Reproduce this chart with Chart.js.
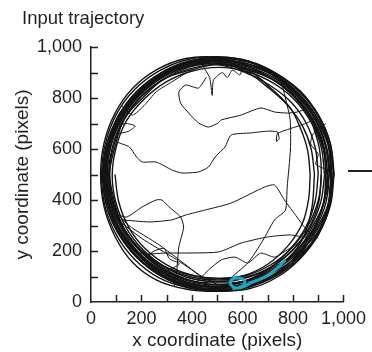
<!DOCTYPE html>
<html>
<head>
<meta charset="utf-8">
<script src="https://cdn.jsdelivr.net/npm/chart.js@4.4.1/dist/chart.umd.min.js"></script>
<style>
  body { margin:0; background:#fff; }
  #wrap { position:relative; width:372px; height:352px; }
  #title { position:absolute; left:22px; top:9px; font:18.5px "Liberation Sans", Arial, sans-serif; line-height:1; color:#231f20; }
  #stray { position:absolute; left:348px; top:170px; width:24px; height:1.5px; background:#231f20; }
</style>
</head>
<body>
<div id="wrap">
  <canvas id="chart" width="372" height="352"></canvas>
  <div id="title">Input trajectory</div>
  <div id="stray"></div>
</div>
<script>

// ticks
const xTicks = [0, 200, 400, 600, 800, 1000]
const yTicks = [0, 200, 400, 600, 800, 1000]

// laps round the ring (x, y in pixels)
const lap1 = [[955,500],[942,615],[893,728],[826,815],[728,893],[620,933],[505,952],[386,938],[282,888],[185,820],[117,722],[68,619],[53,498],[71,380],[113,277],[190,180],[278,108],[390,63],[505,49],[624,63],[731,112],[820,185],[893,279],[942,384],[955,500]]
const lap2 = [[945,505],[928,612],[886,720],[815,810],[728,884],[625,944],[502,962],[380,950],[268,905],[172,832],[100,735],[57,622],[42,505],[55,378],[101,262],[172,168],[270,95],[384,56],[505,42],[618,58],[722,106],[812,178],[880,280],[924,392],[945,505]]
const lap3 = [[938,498],[922,610],[880,716],[810,806],[720,875],[616,918],[505,936],[392,922],[290,876],[198,806],[128,716],[86,612],[70,500],[86,388],[128,284],[200,194],[288,124],[394,80],[506,66],[615,80],[722,124],[811,194],[880,286],[922,390],[938,498]]
const lap4 = [[960,520],[946,628],[900,735],[830,822],[735,896],[626,941],[510,956],[388,943],[276,896],[180,825],[108,728],[63,616],[48,500],[62,375],[108,268],[182,176],[276,102],[388,60],[500,46],[622,60],[728,106],[828,178],[900,274],[948,388],[960,520]]
const lap5 = [[900,505],[888,606],[852,702],[790,786],[708,850],[612,900],[505,930],[390,930],[282,885],[190,812],[120,720],[75,614],[58,500],[72,385],[116,280],[188,190],[282,118],[395,74],[505,62],[608,82],[700,128],[782,200],[850,292],[888,396],[900,505]]
const lap6 = [[935,500],[918,606],[875,708],[808,800],[722,872],[620,925],[505,958],[376,955],[262,912],[165,838],[95,740],[52,625],[38,500],[52,372],[96,255],[165,155],[262,85],[380,50],[505,42],[626,52],[735,96],[830,172],[903,268],[945,380],[935,500]]
const lap7 = [[925,498],[912,606],[870,708],[803,796],[716,862],[614,905],[505,920],[398,905],[296,862],[210,795],[140,710],[100,608],[84,500],[98,392],[140,290],[206,205],[296,136],[396,92],[505,80],[612,94],[714,138],[800,205],[868,292],[910,392],[925,498]]
const lap8 = [[868,500],[858,595],[830,680],[790,760],[722,830],[628,905],[510,945],[392,940],[276,894],[180,818],[112,724],[72,615],[62,500],[80,390],[126,290],[196,206],[290,140],[400,104],[505,92],[606,104],[700,148],[780,220],[838,310],[862,404],[868,500]]
const lap9 = [[95,500],[110,392],[150,292],[214,210],[300,146],[398,106],[505,92],[614,104],[712,146],[795,212],[858,296],[900,398],[912,500],[905,600],[880,690]]
const lap10 = [[950,505],[938,618],[887,726],[823,812],[725,888],[618,928],[508,947],[388,928],[285,883],[188,818],[122,720],[72,618],[58,498],[78,383],[118,280],[193,183],[280,118],[392,68],[503,57],[622,68],[726,118],[823,182],[888,280],[938,382],[950,505]]
const lap11 = [[962,498],[943,620],[902,725],[825,825],[736,891],[620,942],[503,957],[390,937],[274,896],[185,820],[108,731],[67,615],[48,503],[67,380],[108,275],[186,176],[274,108],[390,58],[508,47],[620,62],[736,104],[825,181],[902,270],[943,385],[962,498]]
const lap12 = [[930,502],[920,608],[873,717],[811,800],[716,874],[619,910],[502,931],[396,910],[288,874],[205,800],[131,717],[95,608],[74,502],[95,386],[131,289],[205,194],[288,132],[397,84],[502,75],[619,84],[716,132],[811,194],[873,289],[920,386],[930,502]]
const lap13 = [[952,495],[940,620],[896,722],[821,818],[732,888],[617,936],[502,948],[390,940],[278,892],[188,815],[112,726],[70,614],[52,502],[68,386],[116,272],[188,184],[276,112],[386,66],[508,52],[620,66],[733,108],[818,188],[896,272],[940,380],[952,495]]
const lap14 = [[943,500],[930,612],[884,722],[818,806],[724,880],[621,922],[505,942],[392,925],[286,882],[193,810],[124,720],[80,616],[64,500],[80,388],[124,282],[195,188],[286,120],[392,74],[505,60],[618,74],[724,122],[815,190],[884,282],[930,388],[943,500]]
const lap15 = [[963,505],[948,622],[900,732],[830,826],[731,898],[626,944],[506,960],[384,944],[275,898],[180,825],[110,732],[62,620],[46,500],[62,378],[110,268],[180,175],[275,103],[385,57],[505,44],[625,58],[735,103],[830,175],[900,268],[948,378],[963,505]]
const lap16 = [[936,498],[921,612],[878,716],[806,806],[721,872],[614,916],[503,932],[393,915],[290,874],[200,806],[132,716],[90,612],[73,498],[90,388],[132,284],[200,196],[290,126],[393,85],[505,68],[615,85],[720,127],[806,196],[878,284],[921,388],[936,498]]
const lap17 = [[885,500],[872,600],[838,690],[780,770],[705,838],[620,900],[505,940],[388,935],[280,890],[186,815],[116,720],[72,612],[56,500],[72,385],[118,278],[190,186],[282,114],[392,70],[505,58],[612,72],[705,112],[780,170],[840,250],[875,370],[885,500]]
const lap18 = [[948,500],[932,612],[886,722],[818,812],[726,886],[620,932],[505,948],[390,934],[282,888],[188,816],[120,722],[78,612],[66,500],[85,392],[128,292],[196,205],[290,138],[396,98],[505,86],[614,98],[716,138],[800,205],[864,292],[902,392],[912,500]]

// crossings through the middle
const pathTop = [[457,882],[426,839],[375,851],[348,824],[355,780],[387,741],[426,702],[465,686],[504,702],[516,714],[594,733],[672,761],[727,745],[777,741],[816,745],[860,760]]
const pathMid = [[102,627],[152,608],[180,569],[203,549],[258,549],[320,518],[359,506],[426,510],[465,529],[492,569],[531,608],[555,655],[633,663],[700,670],[738,667],[745,640],[735,630],[738,660],[790,680],[850,700],[890,720]]
const pathLow = [[125,322],[230,314],[320,322],[375,341],[453,361],[555,388],[688,451],[727,459],[766,400],[816,333],[855,282],[900,250]]
const pathBump = [[100,345],[141,333],[203,373],[258,400],[281,400],[309,373],[355,333],[367,294],[348,216],[340,125],[330,60]]
const pathRight = [[750,880],[770,800],[789,714],[790,600],[777,451],[770,360],[727,322],[680,240],[621,153],[543,86]]
const pathFlat = [[113,282],[191,192],[297,192],[504,196],[594,231],[699,255],[789,263],[855,255],[900,300]]
const pathWiggle = [[400,60],[465,125],[516,165],[570,176],[621,153],[672,192],[727,176],[777,204],[820,230],[860,270]]
const pathDiagA = [[55,400],[150,300],[270,224],[426,106],[470,60]]
const pathDiagB = [[82,341],[200,250],[328,173],[440,100],[504,67]]
const pathUpLeft = [[120,770],[164,733],[210,770],[258,824],[320,863],[380,900]]
const pathPoint = [[95,690],[140,700],[175,690],[150,670],[110,660]]
const pathSpikes = [[440,930],[470,880],[480,810],[485,870],[520,900],[540,880],[560,910],[590,890],[600,930]]
const pathRightLoop = [[930,700],[880,660],[870,620],[900,580],[890,540],[930,520]]
const pathLowLeft = [[200,160],[250,200],[290,210],[310,170],[350,150],[300,120]]

// highlighted segment
const cyanPath = [[770,165],[738,133],[688,98],[633,75],[602,59],[574,55],[555,67],[555,86],[574,94],[602,90],[609,75],[594,59],[560,52]]

const laps  = [lap1, lap2, lap3, lap4, lap5, lap6, lap7, lap8, lap9, lap10, lap11, lap12, lap13, lap14, lap15, lap16, lap17, lap18]
const paths = [pathTop, pathMid, pathLow, pathBump, pathRight, pathFlat, pathWiggle, pathDiagA, pathDiagB,
               pathUpLeft, pathPoint, pathSpikes, pathRightLoop, pathLowLeft]

const ink = '#231f20'
const font = 'Liberation Sans, Arial, sans-serif'


function toXY(arr){ return arr.map(p => ({ x: p[0], y: p[1] })) }

function lineSet(arr, color, width, tension){
      return {
            data: toXY(arr),
            showLine: true,
            borderColor: color,
            borderWidth: width,
            pointRadius: 0,
            tension: tension
      }
}

// first dataset is drawn last, so the cyan trace goes in first
const datasets = [ lineSet(cyanPath, '#19a9c6', 3, 0.35) ]
laps.forEach(l  => datasets.push(lineSet(l, '#141414', 1.4, 0.35)))
paths.forEach(p => datasets.push(lineSet(p, '#141414', 1, 0.2)))


// ticks pointing into the plot
const innerTicks = {
      id: 'innerTicks',
      afterDraw(chart){
            const { ctx, chartArea, scales } = chart
            ctx.save()
            ctx.strokeStyle = ink
            ctx.lineWidth = 1.5
            ctx.beginPath()
            scales.x.ticks.forEach(t => {
                  if(t.value === 0){ return }
                  const px = Math.round(scales.x.getPixelForValue(t.value)) + 0.5
                  ctx.moveTo(px, chartArea.bottom)
                  ctx.lineTo(px, chartArea.bottom - 7)
            })
            scales.y.ticks.forEach(t => {
                  if(t.value === 0){ return }
                  const py = Math.round(scales.y.getPixelForValue(t.value)) + 0.5
                  ctx.moveTo(chartArea.left, py)
                  ctx.lineTo(chartArea.left + 7, py)
            })
            ctx.stroke()
            ctx.restore()
      }
}

function tickLabel(v, list){ return list.includes(v) ? v.toLocaleString('en-US') : '' }


new Chart(document.getElementById('chart'), {
      type: 'scatter',
      data: { datasets: datasets },
      plugins: [innerTicks],
      options: {
            responsive: false,
            animation: false,
            devicePixelRatio: 1,
            layout: { padding: { left: 7, top: 47, right: 25, bottom: 0 } },
            plugins: {
                  legend: { display: false },
                  tooltip: { enabled: false }
            },
            scales: {
                  x: {
                        type: 'linear',
                        min: 0, max: 1000,
                        afterFit(scale){ scale.height = 50 },
                        border: { display: true, color: ink, width: 1.5 },
                        grid: { display: false, drawTicks: false },
                        ticks: {
                              stepSize: 100, autoSkip: false, maxRotation: 0,
                              padding: 6, color: ink,
                              font: { family: font, size: 18 },
                              callback: (v) => tickLabel(v, xTicks)
                        },
                        title: {
                              display: true, color: ink,
                              text: 'x coordinate (pixels)',
                              padding: { top: 0, bottom: 0 },
                              font: { family: font, size: 19 }
                        }
                  },
                  y: {
                        type: 'linear',
                        min: 0, max: 1000,
                        afterFit(scale){ scale.width = 84 },
                        border: { display: true, color: ink, width: 1.5 },
                        grid: { display: false, drawTicks: false },
                        ticks: {
                              stepSize: 100, autoSkip: false,
                              padding: 9, color: ink,
                              font: { family: font, size: 18 },
                              callback: (v) => tickLabel(v, yTicks)
                        },
                        title: {
                              display: true, color: ink,
                              text: 'y coordinate (pixels)',
                              padding: { top: 4, bottom: 0 },
                              font: { family: font, size: 19 }
                        }
                  }
            }
      }
})

</script>
</body>
</html>
